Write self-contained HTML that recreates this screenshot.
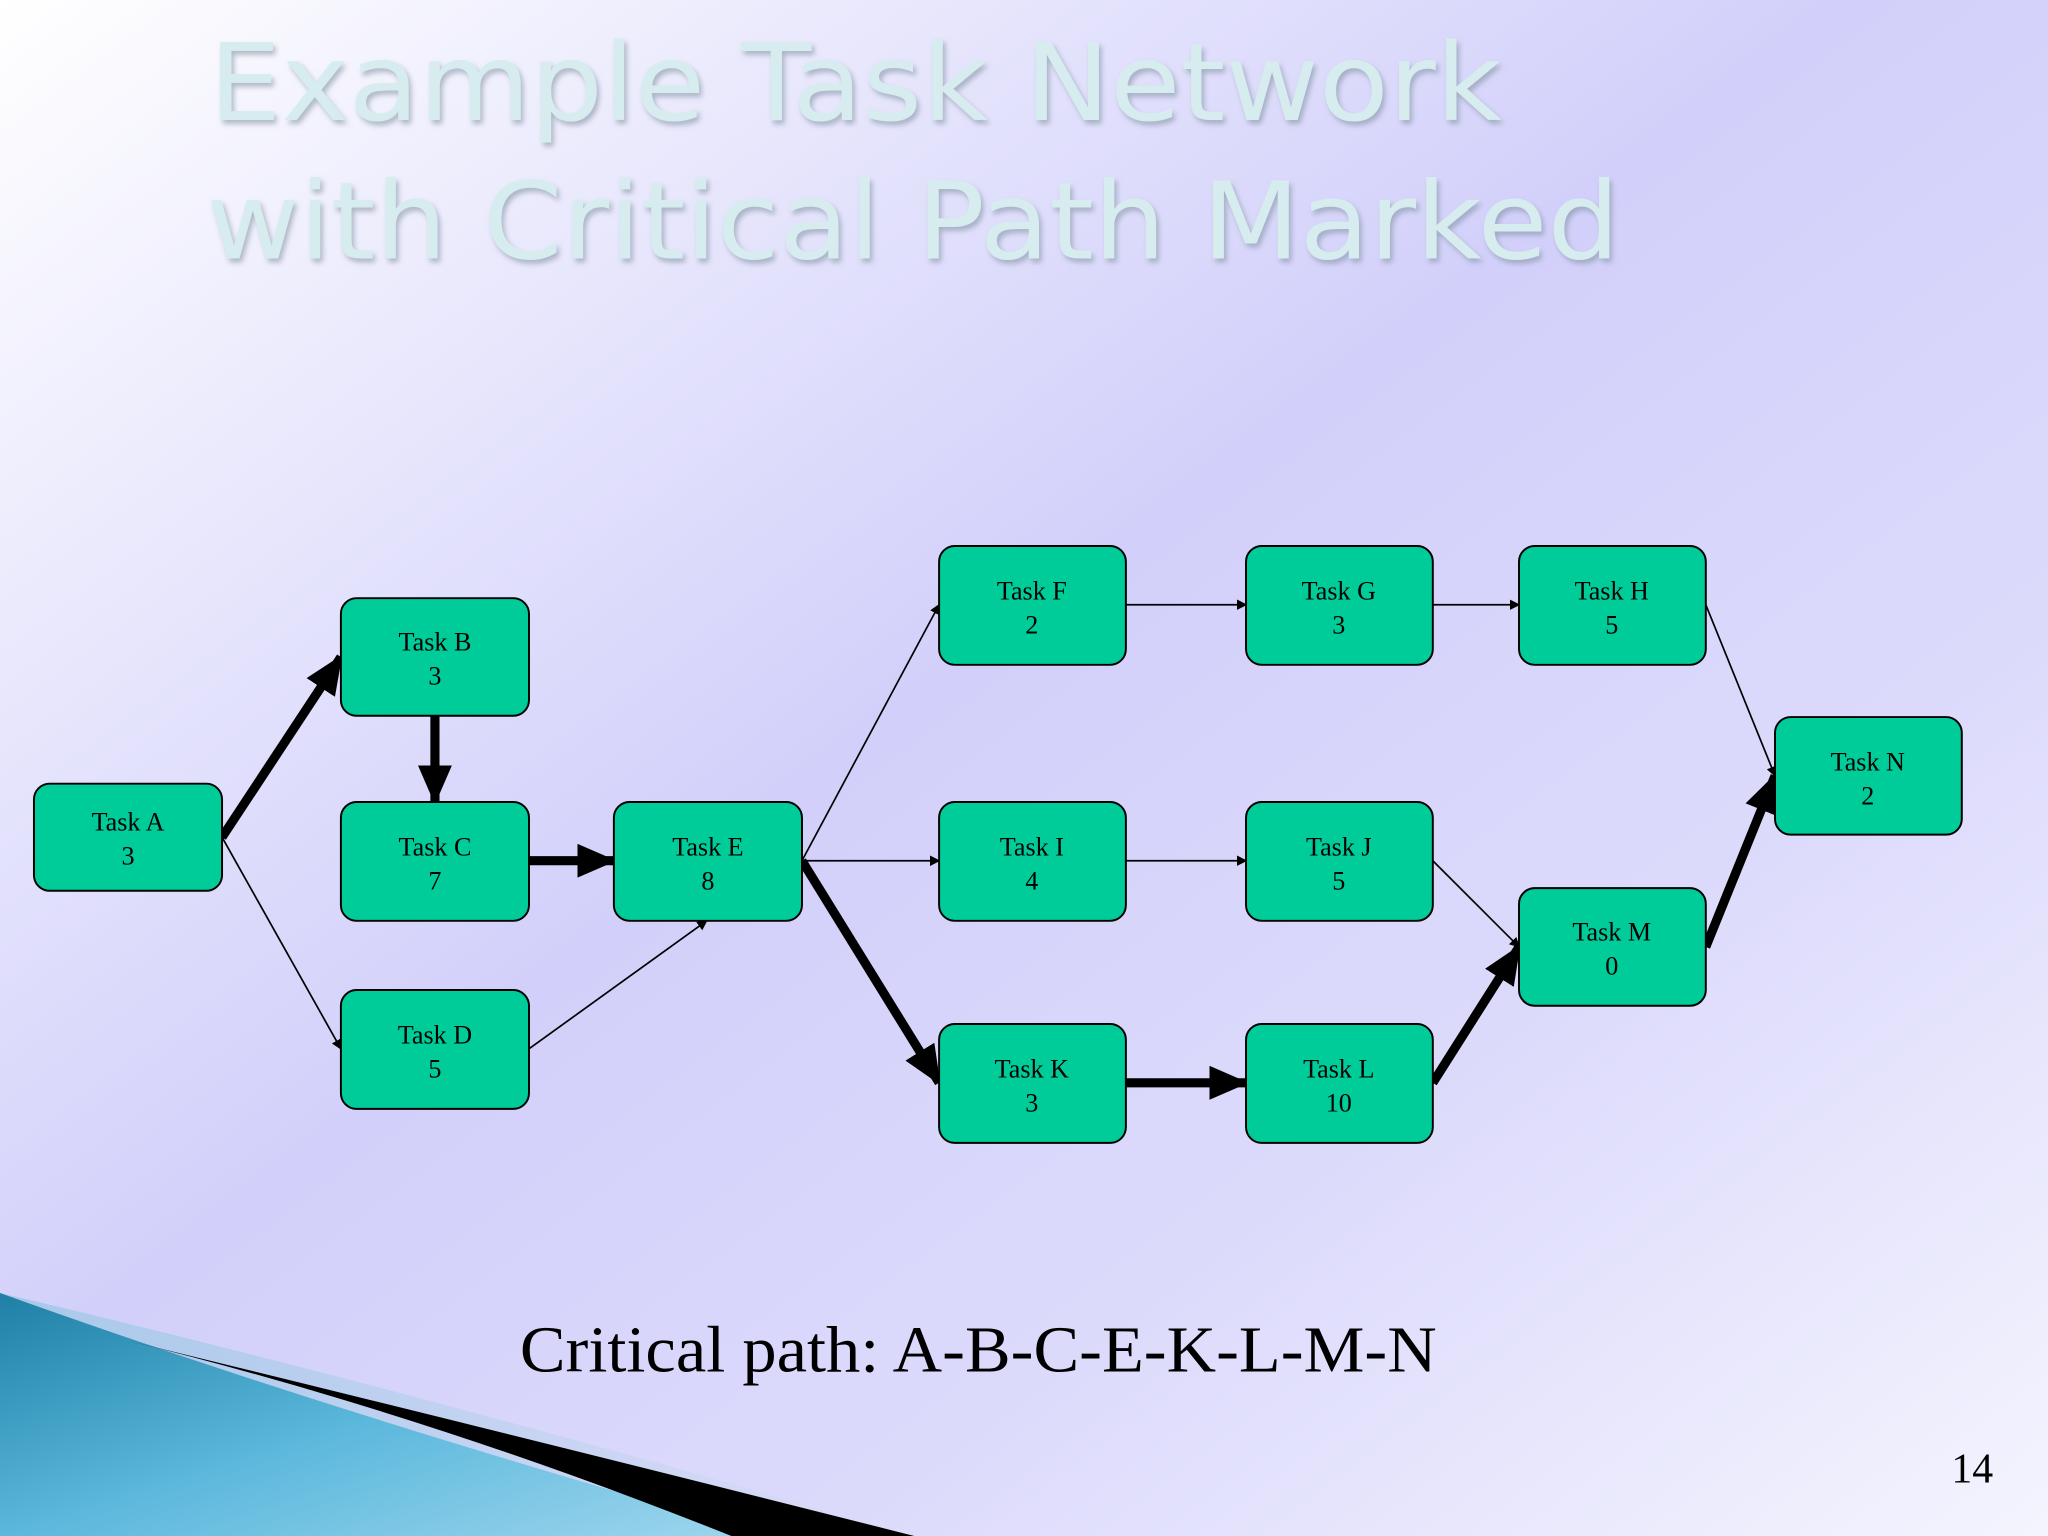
<!DOCTYPE html>
<html><head><meta charset="utf-8"><style>
html,body{margin:0;padding:0;width:2048px;height:1536px;overflow:hidden}
svg{display:block}
</style></head><body>
<svg width="2048" height="1536" viewBox="0 0 1568 1176" xmlns="http://www.w3.org/2000/svg">
<defs>
<linearGradient id="bg" x1="0" y1="0" x2="1" y2="1">
<stop offset="0" stop-color="#ffffff"/>
<stop offset="0.45" stop-color="#d2d0fa"/>
<stop offset="0.7" stop-color="#dcdafb"/>
<stop offset="1" stop-color="#f4f4fe"/>
</linearGradient>
<linearGradient id="blue" x1="0" y1="0" x2="1" y2="1">
<stop offset="0" stop-color="#1f7fa5"/>
<stop offset="0.5" stop-color="#5bb8dc"/>
<stop offset="1" stop-color="#9fd6ee"/>
</linearGradient>
<linearGradient id="band" x1="0" y1="0" x2="1" y2="0">
<stop offset="0" stop-color="#a8c8ea"/>
<stop offset="1" stop-color="#dcdcf8"/>
</linearGradient>
<filter id="sh"><feDropShadow dx="2" dy="3" stdDeviation="2" flood-color="#8090a0" flood-opacity="0.6"/></filter>
<marker id="a" markerWidth="8" markerHeight="8" refX="7" refY="4" orient="auto" markerUnits="userSpaceOnUse"><path d="M0,0 L8,4 L0,8 z" fill="#000"/></marker>
<marker id="b" markerWidth="30" markerHeight="26" refX="28" refY="13" orient="auto" markerUnits="userSpaceOnUse"><path d="M0,0 L30,13 L0,26 z" fill="#000"/></marker>
</defs>
<rect width="1568" height="1176" fill="url(#bg)"/>
<!-- bottom decoration -->
<path d="M0,990 Q300,1060 700,1176 L0,1176 Z" fill="url(#band)"/>
<path d="M0,990 Q250,1080 590,1176 L0,1176 Z" fill="url(#blue)"/>
<path d="M80,1022 Q400,1100 700,1176 L560,1176 Q320,1080 80,1022 Z" fill="#000"/>
<!-- title -->
<g font-family="'DejaVu Sans','Liberation Sans',sans-serif" font-size="82" fill="#d6ecee" filter="url(#sh)">
<text x="160" y="92" textLength="990" lengthAdjust="spacingAndGlyphs">Example Task Network</text>
<text x="158" y="198" textLength="1082" lengthAdjust="spacingAndGlyphs">with Critical Path Marked</text>
</g>
<!-- edges thin -->
<g stroke="#000" stroke-width="1.3" fill="none" marker-end="url(#a)">
<line x1="170" y1="641" x2="261" y2="803"/>
<line x1="405" y1="803" x2="541" y2="705"/>
<line x1="614" y1="659" x2="719" y2="463"/>
<line x1="614" y1="659" x2="719" y2="659"/>
<line x1="862" y1="463" x2="954" y2="463"/>
<line x1="1097" y1="463" x2="1163" y2="463"/>
<line x1="862" y1="659" x2="954" y2="659"/>
<line x1="1097" y1="659" x2="1163" y2="725"/>
<line x1="1306" y1="463" x2="1359" y2="594"/>
</g>
<g stroke="#000" stroke-width="7" fill="none" marker-end="url(#b)">
<line x1="170" y1="641" x2="261" y2="503"/>
<line x1="333" y1="548" x2="333" y2="614"/>
<line x1="405" y1="659" x2="470" y2="659"/>
<line x1="614" y1="659" x2="719" y2="829"/>
<line x1="862" y1="829" x2="954" y2="829"/>
<line x1="1097" y1="829" x2="1163" y2="725"/>
<line x1="1306" y1="725" x2="1359" y2="594"/>
</g>
<!-- nodes -->
<g fill="#00cc99" stroke="#000" stroke-width="1.5">
<rect x="26" y="600" width="144" height="82" rx="12"/>
<rect x="261" y="458" width="144" height="90" rx="12"/>
<rect x="261" y="614" width="144" height="91" rx="12"/>
<rect x="261" y="758" width="144" height="91" rx="12"/>
<rect x="470" y="614" width="144" height="91" rx="12"/>
<rect x="719" y="418" width="143" height="91" rx="12"/>
<rect x="954" y="418" width="143" height="91" rx="12"/>
<rect x="1163" y="418" width="143" height="91" rx="12"/>
<rect x="719" y="614" width="143" height="91" rx="12"/>
<rect x="954" y="614" width="143" height="91" rx="12"/>
<rect x="719" y="784" width="143" height="91" rx="12"/>
<rect x="954" y="784" width="143" height="91" rx="12"/>
<rect x="1163" y="680" width="143" height="90" rx="12"/>
<rect x="1359" y="549" width="143" height="90" rx="12"/>
</g>
<g font-family="'Liberation Serif',serif" font-size="20" text-anchor="middle" fill="#000">
<text x="98" y="636">Task A</text><text x="98" y="662">3</text>
<text x="333" y="498">Task B</text><text x="333" y="524">3</text>
<text x="333" y="655">Task C</text><text x="333" y="681">7</text>
<text x="333" y="799">Task D</text><text x="333" y="825">5</text>
<text x="542" y="655">Task E</text><text x="542" y="681">8</text>
<text x="790" y="459">Task F</text><text x="790" y="485">2</text>
<text x="1025" y="459">Task G</text><text x="1025" y="485">3</text>
<text x="1234" y="459">Task H</text><text x="1234" y="485">5</text>
<text x="790" y="655">Task I</text><text x="790" y="681">4</text>
<text x="1025" y="655">Task J</text><text x="1025" y="681">5</text>
<text x="790" y="825">Task K</text><text x="790" y="851">3</text>
<text x="1025" y="825">Task L</text><text x="1025" y="851">10</text>
<text x="1234" y="720">Task M</text><text x="1234" y="746">0</text>
<text x="1430" y="590">Task N</text><text x="1430" y="616">2</text>
</g>
<text x="398" y="1050" font-family="'Liberation Serif',serif" font-size="50" fill="#000" textLength="702" lengthAdjust="spacingAndGlyphs">Critical path: A-B-C-E-K-L-M-N</text>
<text x="1526" y="1135" font-family="'Liberation Serif',serif" font-size="32" fill="#000" text-anchor="end">14</text>
</svg>
</body></html>
